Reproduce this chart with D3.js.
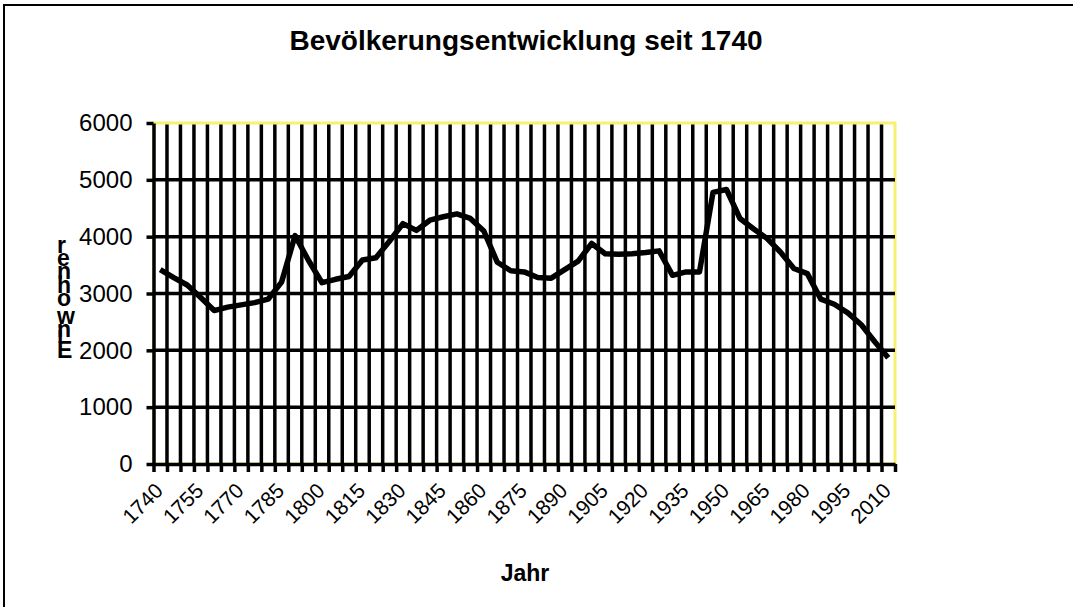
<!DOCTYPE html>
<html><head><meta charset="utf-8">
<script src="https://cdn.jsdelivr.net/npm/d3@7"></script>
<style>body{margin:0;background:#fff}svg{display:block;font-family:"Liberation Sans",Arial,sans-serif}</style>
</head><body>
<svg id="c" width="1073" height="607"></svg>
<script>
const years = [1740,1745,1750,1755,1760,1765,1770,1775,1780,1785,1790,1795,1800,1805,1810,1815,1820,1825,1830,1835,1840,1845,1850,1855,1860,1865,1870,1875,1880,1885,1890,1895,1900,1905,1910,1915,1920,1925,1930,1935,1940,1945,1950,1955,1960,1965,1970,1975,1980,1985,1990,1995,2000,2005,2010];
const population = [3420,3280,3150,2930,2700,2760,2800,2840,2900,3200,4020,3580,3190,3250,3300,3590,3630,3920,4230,4110,4290,4350,4400,4320,4100,3550,3400,3380,3280,3270,3420,3570,3880,3700,3690,3700,3720,3750,3320,3380,3380,4780,4830,4320,4140,3970,3730,3440,3350,2900,2810,2660,2450,2150,1870];
const yTicks = [0,1000,2000,3000,4000,5000,6000];
const xLabelYears = [1740,1755,1770,1785,1800,1815,1830,1845,1860,1875,1890,1905,1920,1935,1950,1965,1980,1995,2010];
const titleText = "Bevölkerungsentwicklung seit 1740";
const xTitleText = "Jahr";
const yTitleText = "Einwohner";

const svg = d3.select("#c");
const L = 153.5, R = 895, T = 123, B = 464;

svg.append("rect").attr("x",4).attr("y",5).attr("width",1300).attr("height",900)
  .attr("fill","#fff").attr("stroke","#000").attr("stroke-width",2);

const x = d3.scaleBand().domain(years).range([L,R]).padding(0);
const xb = d3.scaleLinear().domain([0,years.length]).range([L,R]);
const y = d3.scaleLinear().domain([0,6000]).range([B,T]);
const bw = x.bandwidth();

// plot area border
svg.append("rect").attr("x",L).attr("y",T).attr("width",R-L).attr("height",B-T)
  .attr("fill","none").attr("stroke","#f8f070").attr("stroke-width",3);

// vertical gridlines
svg.append("g").selectAll("line").data(d3.range(1,years.length)).join("line")
  .attr("x1",d=>xb(d)).attr("x2",d=>xb(d)).attr("y1",T+1.5).attr("y2",B)
  .attr("stroke","#000").attr("stroke-width",3.5);
// horizontal gridlines
svg.append("g").selectAll("line").data(yTicks.filter(v=>v>0 && v<6000)).join("line")
  .attr("x1",L).attr("x2",R).attr("y1",d=>y(d)).attr("y2",d=>y(d))
  .attr("stroke","#000").attr("stroke-width",3.5);

// y axis
const ya = svg.append("g").attr("transform",`translate(${L},0)`)
  .call(d3.axisLeft(y).tickValues(yTicks).tickFormat(d3.format("d")).tickSize(7).tickSizeOuter(0).tickPadding(14));
ya.selectAll("line").attr("stroke","#000").attr("stroke-width",3.5);
ya.select(".domain").attr("stroke","#000").attr("stroke-width",3.5);
ya.selectAll("text").attr("font-size",24).attr("fill","#000")
  .attr("font-family","'Liberation Sans',Arial,sans-serif");

// x axis
const xa = svg.append("g").attr("transform",`translate(0,${B})`)
  .call(d3.axisBottom(xb).tickValues(d3.range(0,years.length+1)).tickSize(8).tickSizeOuter(0).tickFormat(""));
xa.selectAll("line").attr("stroke","#000").attr("stroke-width",3.5);
xa.select(".domain").attr("stroke","#000").attr("stroke-width",3.5);

// x labels
svg.append("g").selectAll("text").data(xLabelYears).join("text")
  .attr("transform",d=>`translate(${x(d)+bw/2+4},492) rotate(-45)`)
  .attr("text-anchor","end").attr("font-size",21).attr("fill","#000")
  .text(d=>d);

// data line
svg.append("path").datum(population)
  .attr("d", d3.line().x((d,i)=>x(years[i])+bw/2).y(d=>y(d)))
  .attr("fill","none").attr("stroke","#000").attr("stroke-width",5.5)
  .attr("stroke-linejoin","round").attr("stroke-linecap","butt");

// titles
svg.append("text").attr("x",526).attr("y",50).attr("text-anchor","middle")
  .attr("font-size",28).attr("font-weight","bold").text(titleText);
svg.append("text").attr("x",525).attr("y",581).attr("text-anchor","middle")
  .attr("font-size",23).attr("font-weight","bold").text(xTitleText);
svg.append("text").attr("transform","translate(57,358) rotate(-90)")
  .attr("rotate","90").attr("font-size",23).attr("font-weight","bold")
  .attr("letter-spacing",-0.5).text(yTitleText);
</script>
</body></html>
